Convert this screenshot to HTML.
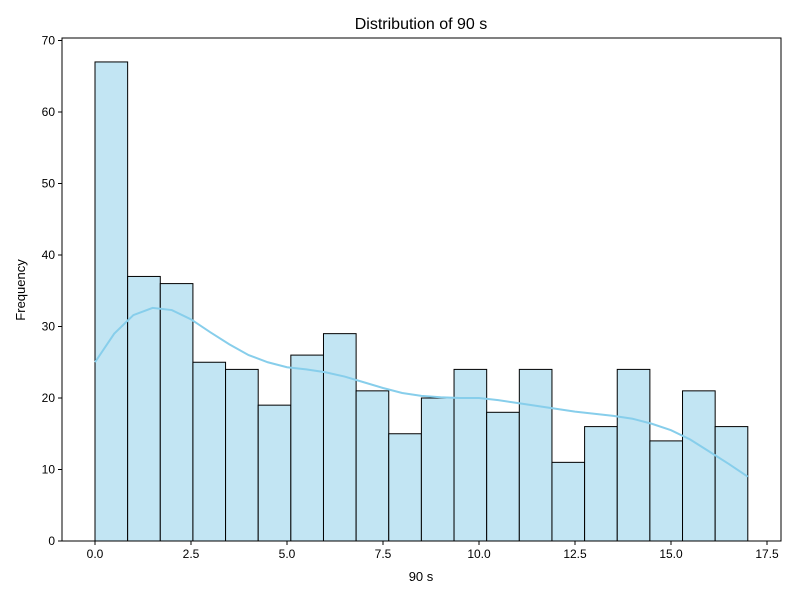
<!DOCTYPE html>
<html><head><meta charset="utf-8"><style>
body{margin:0;background:#fff;font-family:"Liberation Sans",sans-serif;}
svg text{font-family:"Liberation Sans",sans-serif;fill:#000;}
</style></head><body>
<svg id="chart" width="800" height="600">
<text x="421" y="29" font-size="16" text-anchor="middle">Distribution of 90 s</text>
<g id="bars"></g><g id="kde"></g><g id="axes"></g>
<text x="421" y="581" font-size="13" text-anchor="middle">90 s</text>
<text transform="translate(25,290) rotate(-90)" font-size="13" text-anchor="middle">Frequency</text>
</svg>
<script>
const binStart = 0, binWidth = 0.85;
const counts = [67,37,36,25,24,19,26,29,21,15,20,24,18,24,11,16,24,14,21,16];
const kdeX = [0,0.5,1,1.5,2,2.5,3,3.5,4,4.5,5,5.5,6,6.5,7,7.5,8,8.5,9,9.5,10,10.5,11,11.5,12,12.5,13,13.5,14,14.5,15,15.5,16,16.5,17];
const kdeY = [25,29,31.6,32.6,32.3,31,29.2,27.5,26,25,24.3,24,23.6,23,22.2,21.4,20.7,20.3,20.1,20,20,19.7,19.3,18.9,18.5,18.1,17.8,17.5,17.1,16.4,15.5,14.2,12.5,10.8,9];
const xTicks = [0,2.5,5,7.5,10,12.5,15,17.5];
const yTicks = [0,10,20,30,40,50,60,70];
const L=62,R=781,T=38,B=541;
const xs=v=>95+v*38.4, ys=v=>541-v*7.15;
const NS="http://www.w3.org/2000/svg";
function mk(p,t,a){const e=document.createElementNS(NS,t);for(const k in a)e.setAttribute(k,a[k]);p.appendChild(e);return e;}
const bars=document.getElementById('bars');
counts.forEach((c,i)=>{const x0=xs(binStart+i*binWidth),x1=xs(binStart+(i+1)*binWidth);
const r=mk(bars,'rect',{x:x0,y:ys(c),width:x1-x0,height:ys(0)-ys(c),fill:'#c2e5f3',stroke:'#000','stroke-width':1});

});
const kde=document.getElementById('kde');
const pl=mk(kde,'polyline',{points:kdeX.map((x,i)=>xs(x)+','+ys(kdeY[i])).join(' '),fill:'none',stroke:'#87ceeb','stroke-width':2});


const ax=document.getElementById('axes');
const fr=mk(ax,'rect',{x:L,y:T,width:R-L,height:B-T,fill:'none',stroke:'#000','stroke-width':1});


xTicks.forEach(v=>{const x=xs(v);mk(ax,'line',{x1:x,x2:x,y1:B,y2:B+4,stroke:'#000'});
const t=mk(ax,'text',{x:x,y:B+17,'font-size':12,'text-anchor':'middle'});t.textContent=v.toFixed(1);

});
yTicks.forEach(v=>{const y=ys(v);mk(ax,'line',{x1:L-4,x2:L,y1:y,y2:y,stroke:'#000'});
const t=mk(ax,'text',{x:L-7,y:y+4,'font-size':12,'text-anchor':'end'});t.textContent=v;

});
</script>
</body></html>
